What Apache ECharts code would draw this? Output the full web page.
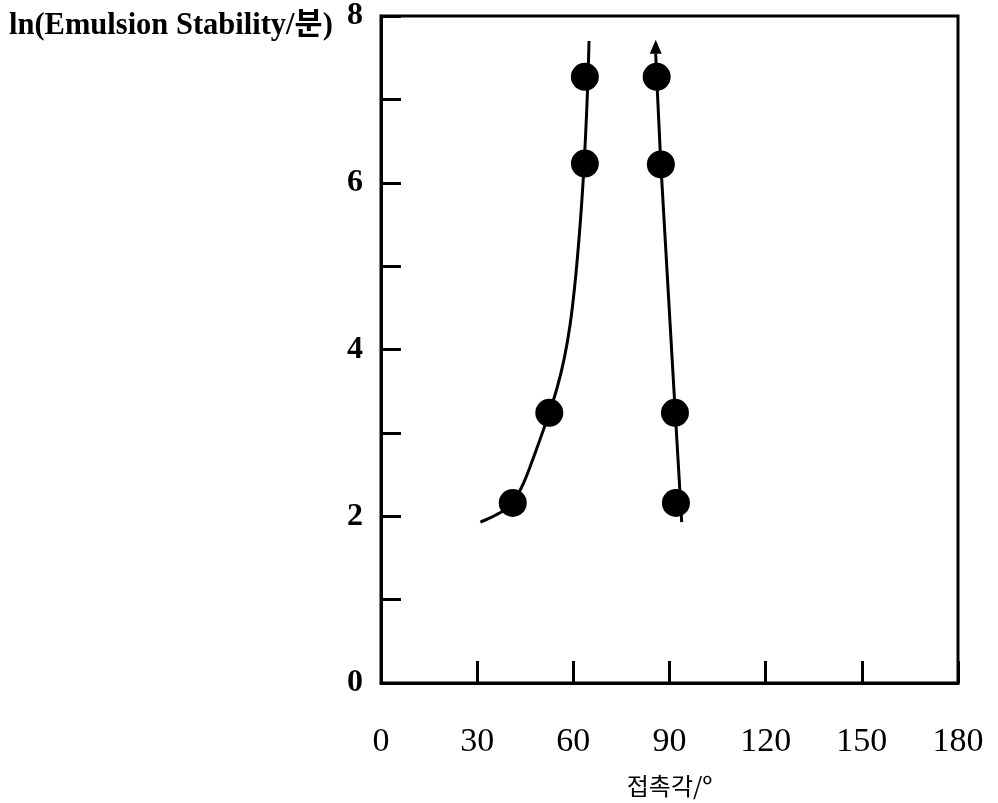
<!DOCTYPE html>
<html>
<head>
<meta charset="utf-8">
<script src="https://cdn.jsdelivr.net/npm/echarts@6/dist/echarts.min.js"></script>
<style>html,body{margin:0;padding:0;background:#fff;}#c{width:998px;height:803px;}</style>
</head>
<body>
<div id="c"></div>
<script>
// Data
var pointX = [41.1, 52.5, 63.6, 63.6, 86.0, 87.3, 91.7, 92.0];
var pointY = [2.16, 3.24, 6.23, 7.27, 7.27, 6.22, 3.24, 2.16];

var leftCurveX = [31.0, 34.0, 37.5, 41.0, 44.5, 48.0, 52.5, 55.0, 57.2, 59.0, 60.4, 61.6, 62.6, 63.4, 64.1, 64.6, 64.9];
var leftCurveY = [1.93, 1.98, 2.05, 2.16, 2.40, 2.75, 3.24, 3.55, 3.90, 4.30, 4.75, 5.25, 5.75, 6.25, 6.80, 7.30, 7.70];

var rightCurveX = [93.8, 93.0, 91.8, 87.3, 86.0, 85.7];
var rightCurveY = [1.93, 2.46, 3.24, 6.22, 7.27, 7.55];

var arrowX = [85.7];
var arrowY = [7.63];

var xTicks = [0, 30, 60, 90, 120, 150, 180];
var yTickLabels = ['0', '', '2', '', '4', '', '6', '', '8'];

var yName = 'ln(Emulsion Stability/분)';
var xName = '접촉각/º';

function zip(a, b) { return a.map(function (v, i) { return [v, b[i]]; }); }

var serif = "'Liberation Serif', 'Times New Roman', 'Noto Sans CJK KR', serif";

var chart = echarts.init(document.getElementById('c'), null, {renderer: 'canvas'});
chart.setOption({
  animation: false,
  backgroundColor: '#fff',
  title: {
    text: yName,
    left: 4,
    top: 6,
    textStyle: {fontFamily: serif, fontSize: 30.5, fontWeight: 'bold', color: '#000'}
  },
  grid: {
    left: 381, right: 40, top: 14, bottom: 116,
    show: true, borderColor: '#000', borderWidth: 3, backgroundColor: 'transparent'
  },
  xAxis: {
    type: 'value', min: 0, max: 180, interval: 30,
    name: xName, nameLocation: 'middle', nameGap: 91,
    nameTextStyle: {fontFamily: "'Noto Sans CJK KR', sans-serif", fontSize: 24, color: '#000'},
    axisLine: {show: true, lineStyle: {color: '#000', width: 3}},
    axisTick: {show: true, inside: true, length: 22, lineStyle: {color: '#000', width: 3}},
    axisLabel: {margin: 42, fontFamily: serif, fontSize: 34, color: '#000',
      formatter: function (v) { return xTicks.indexOf(v) >= 0 ? String(v) : ''; }},
    splitLine: {show: false}
  },
  yAxis: {
    type: 'value', min: 0, max: 8, interval: 1,
    axisLine: {show: true, lineStyle: {color: '#000', width: 3}},
    axisTick: {show: true, inside: true, length: 20, lineStyle: {color: '#000', width: 3}},
    axisLabel: {margin: 18, fontFamily: serif, fontSize: 32, fontWeight: 'bold', color: '#000',
      formatter: function (v) { return yTickLabels[Math.round(v)] || ''; }},
    splitLine: {show: false}
  },
  series: [
    {
      type: 'line', data: zip(leftCurveX, leftCurveY), smooth: 0.3, symbol: 'none',
      lineStyle: {color: '#000', width: 3}, z: 2
    },
    {
      type: 'line', data: zip(rightCurveX, rightCurveY), smooth: false, symbol: 'none',
      lineStyle: {color: '#000', width: 3}, z: 2
    },
    {
      type: 'scatter', data: zip(arrowX, arrowY), symbol: 'triangle', symbolSize: [12, 14],
      itemStyle: {color: '#000', opacity: 1}, z: 3
    },
    {
      type: 'scatter', data: zip(pointX, pointY), symbol: 'circle', symbolSize: 28,
      itemStyle: {color: '#000', opacity: 1}, z: 4
    }
  ]
});
</script>
</body>
</html>
